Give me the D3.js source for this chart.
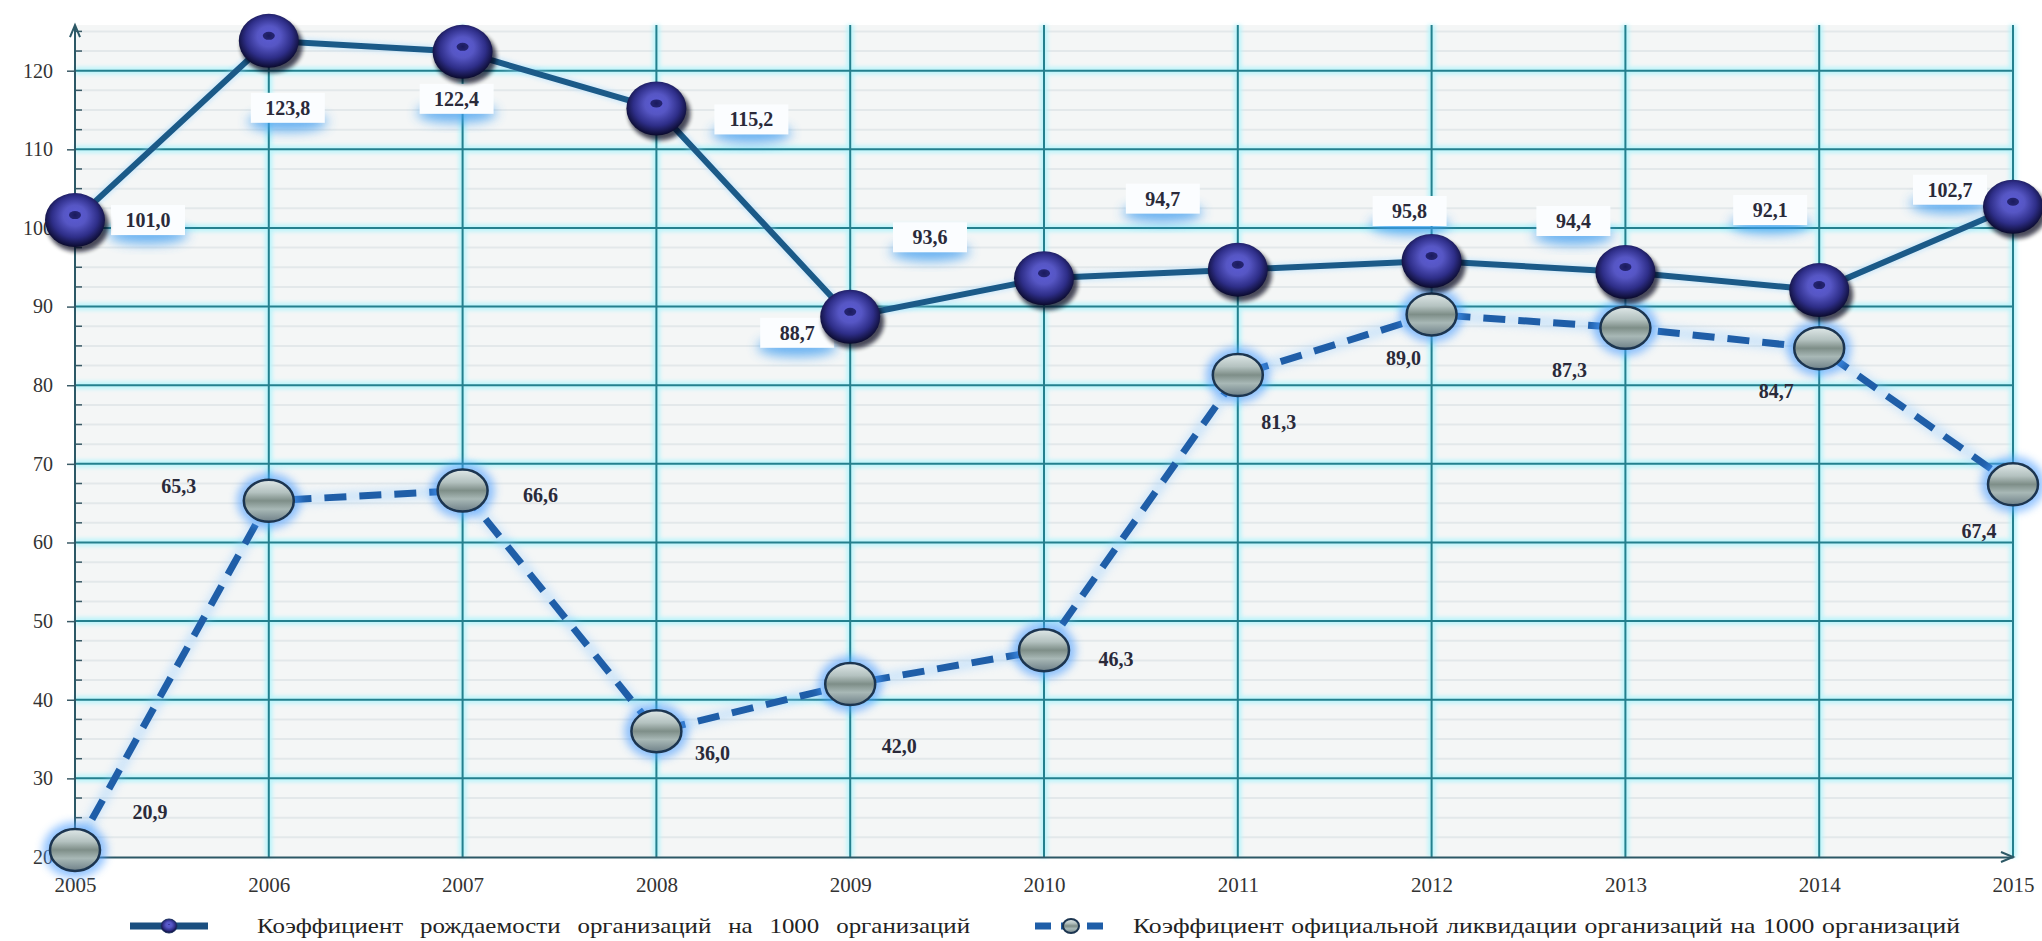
<!DOCTYPE html>
<html><head><meta charset="utf-8">
<script src="https://cdn.jsdelivr.net/npm/d3@7"></script>
<style>html,body{margin:0;padding:0;background:#fff;}svg{display:block;}</style>
</head><body>
<svg id="chart" width="2042" height="941"></svg>
<script>
// ---- data ----
const years = [2005,2006,2007,2008,2009,2010,2011,2012,2013,2014,2015];
const birthRate = [101.0,123.8,122.4,115.2,88.7,93.6,94.7,95.8,94.4,92.1,102.7];
const liquidationRate = [20.9,65.3,66.6,36.0,42.0,46.3,81.3,89.0,87.3,84.7,67.4];
const yTicks = [20,30,40,50,60,70,80,90,100,110,120];
const seriesNames = [
  "Коэффициент рождаемости организаций на 1000 организаций",
  "Коэффициент официальной ликвидации организаций на 1000 организаций"
];
// label offsets (px) relative to the point
const birthLabelOffsets = [[73,0],[19,67],[-6,47],[95,11],[-53,16],[-114,-41],[-75,-71],[-22,-50],[-52,-51],[-49,-80],[-63,-17]];
const liqLabelOffsets = [[75,-38],[-90,-15],[78,4],[56,22],[49,62],[72,9],[41,47],[-28,44],[-56,42],[-43,43],[-34,47]];

// ---- layout ----
const svg = d3.select("#chart");
const x = d3.scaleLinear().domain([2005,2015]).range([75,2013]);
const y = d3.scaleLinear().domain([20,120]).range([857,70.7]);
const yTop = y(125.8);
const fmt = v => d3.format(".1f")(v).replace(".", ",");

const defs = svg.append("defs");
const blur = (id, sd) => defs.append("filter").attr("id", id)
  .attr("x","-50%").attr("y","-50%").attr("width","200%").attr("height","200%")
  .append("feGaussianBlur").attr("stdDeviation", sd);
blur("b2", 2); blur("b4", 4); blur("b6", 6);

const g1 = defs.append("radialGradient").attr("id","sph1").attr("cx","50%").attr("cy","45%").attr("r","55%").attr("fx","50%").attr("fy","40%");
[[0,"#1e1e6a"],[0.12,"#5a5ad0"],[0.35,"#5656c4"],[0.7,"#2e2e88"],[1,"#0a0a2c"]].forEach(s=>g1.append("stop").attr("offset",s[0]).attr("stop-color",s[1]));
const g2 = defs.append("linearGradient").attr("id","sph2").attr("x1","0").attr("y1","0").attr("x2","0").attr("y2","1");
[[0,"#dfe8e8"],[0.3,"#b4c2c0"],[0.5,"#7e8e88"],[0.7,"#a8b8b6"],[1,"#6e8088"]].forEach(s=>g2.append("stop").attr("offset",s[0]).attr("stop-color",s[1]));

// plot background
svg.append("rect").attr("x", x(2005)).attr("y", yTop).attr("width", x(2015)-x(2005)).attr("height", y(20)-yTop).attr("fill","#f4f6f6");
// faint minor stripes
const minor = d3.range(20, 125.5, 2.5).filter(v => v % 10 !== 0);
svg.append("g").selectAll("line").data(minor).join("line")
  .attr("x1", x(2005)).attr("x2", x(2015)).attr("y1", d=>y(d)).attr("y2", d=>y(d))
  .attr("stroke","#e3e8ea").attr("stroke-width",2);

// gridlines with cyan glow
const grid = svg.append("g");
const hVals = yTicks.filter(v => v > 20);
const vVals = years.filter(v => v > 2005);
grid.append("g").attr("filter","url(#b2)").call(g => {
  g.selectAll(".h").data(hVals).join("line").attr("x1", x(2005)).attr("x2", x(2015)).attr("y1", d=>y(d)).attr("y2", d=>y(d)).attr("stroke","#b8f4fb").attr("stroke-width",7);
  g.selectAll(".v").data(vVals).join("line").attr("y1", yTop).attr("y2", y(20)).attr("x1", d=>x(d)).attr("x2", d=>x(d)).attr("stroke","#b8f4fb").attr("stroke-width",7);
});
grid.selectAll(".hh").data(hVals).join("line").attr("x1", x(2005)).attr("x2", x(2015)).attr("y1", d=>y(d)).attr("y2", d=>y(d)).attr("stroke","#24808e").attr("stroke-width",2);
grid.selectAll(".vv").data(vVals).join("line").attr("y1", yTop).attr("y2", y(20)).attr("x1", d=>x(d)).attr("x2", d=>x(d)).attr("stroke","#24808e").attr("stroke-width",2);

// axes
const yAxis = d3.axisLeft(y).tickValues(yTicks).tickSize(8).tickPadding(14).tickFormat(d3.format("d"));
const yg = svg.append("g").attr("transform", `translate(${x(2005)},0)`).call(yAxis);
yg.select(".domain").remove();
yg.selectAll("line").attr("stroke","#3a5a66").attr("stroke-width",1.5);
yg.selectAll("text").attr("font-family","Liberation Serif, serif").attr("font-size",20).attr("fill","#333");
svg.append("g").selectAll("line").data(minor).join("line")
  .attr("x1", x(2005)).attr("x2", x(2005)+7).attr("y1", d=>y(d)).attr("y2", d=>y(d)).attr("stroke","#3a5a66").attr("stroke-width",1.5);
svg.append("line").attr("x1",x(2005)).attr("x2",x(2005)).attr("y1",y(20)).attr("y2",yTop).attr("stroke","#2c5866").attr("stroke-width",2);
svg.append("path").attr("d",`M${x(2005)-5},${yTop+12}L${x(2005)},${yTop}L${x(2005)+5},${yTop+12}`).attr("fill","none").attr("stroke","#2c5866").attr("stroke-width",2);

const xAxis = d3.axisBottom(x).tickValues(years).tickSize(0).tickPadding(20).tickFormat(d3.format("d"));
const xg = svg.append("g").attr("transform", `translate(0,${y(20)})`).call(xAxis);
xg.select(".domain").attr("stroke","#2c5866").attr("stroke-width",2);
xg.selectAll("text").attr("font-family","Liberation Serif, serif").attr("font-size",21).attr("fill","#333");
svg.append("path").attr("d",`M${x(2015)-12},${y(20)-5}L${x(2015)},${y(20)}L${x(2015)-12},${y(20)+5}`).attr("fill","none").attr("stroke","#2c5866").attr("stroke-width",2);

// lines
const line2 = d3.line().x((d,i)=>x(years[i])).y(d=>y(d));
svg.append("path").datum(liquidationRate).attr("d", line2).attr("fill","none").attr("stroke","#8cc8ff").attr("stroke-width",12).attr("opacity",0.35).attr("filter","url(#b4)");
svg.append("path").datum(liquidationRate).attr("d", line2).attr("fill","none").attr("stroke","#1f5ea8").attr("stroke-width",7).attr("stroke-dasharray","22,13");
svg.append("path").datum(birthRate).attr("d", line2).attr("fill","none").attr("stroke","#9fd8ff").attr("stroke-width",10).attr("opacity",0.4).attr("filter","url(#b2)");
svg.append("path").datum(birthRate).attr("d", line2).attr("fill","none").attr("stroke","#1b5a88").attr("stroke-width",6);

// labels
const fontL = "Liberation Serif, serif";
const lb1 = svg.append("g").selectAll("g").data(birthRate).join("g")
  .attr("transform",(d,i)=>`translate(${x(years[i])+birthLabelOffsets[i][0]},${y(d)+birthLabelOffsets[i][1]})`);
lb1.append("ellipse").attr("cx",0).attr("cy",14).attr("rx",40).attr("ry",10).attr("fill","#3d9cf0").attr("opacity",0.75).attr("filter","url(#b6)");
lb1.append("rect").attr("x",-37).attr("y",-15).attr("width",74).attr("height",30).attr("fill","#fbfdff");
lb1.append("text").text(d=>fmt(d)).attr("text-anchor","middle").attr("dy","0.35em")
  .attr("font-family",fontL).attr("font-weight","bold").attr("font-size",20).attr("fill","#2a2a3a");

svg.append("g").selectAll("text").data(liquidationRate).join("text")
  .attr("x",(d,i)=>x(years[i])+liqLabelOffsets[i][0]).attr("y",(d,i)=>y(d)+liqLabelOffsets[i][1])
  .text(d=>fmt(d)).attr("text-anchor","middle").attr("dy","0.35em")
  .attr("font-family",fontL).attr("font-weight","bold").attr("font-size",20).attr("fill","#2a2a3a");

// markers series 2
const m2 = svg.append("g").selectAll("g").data(liquidationRate).join("g")
  .attr("transform",(d,i)=>`translate(${x(years[i])},${y(d)})`);
m2.append("ellipse").attr("rx",32).attr("ry",28).attr("fill","#4a9cff").attr("opacity",0.6).attr("filter","url(#b4)");
m2.append("ellipse").attr("rx",25).attr("ry",21).attr("fill","url(#sph2)").attr("stroke","#1c3550").attr("stroke-width",2.5);

// markers series 1
const m1 = svg.append("g").selectAll("g").data(birthRate).join("g")
  .attr("transform",(d,i)=>`translate(${x(years[i])},${y(d)})`);
m1.append("ellipse").attr("cx",3).attr("cy",5).attr("rx",31).attr("ry",27).attr("fill","#000018").attr("opacity",0.7).attr("filter","url(#b2)");
m1.append("ellipse").attr("rx",30).attr("ry",27).attr("fill","url(#sph1)");
m1.append("ellipse").attr("cy",-5).attr("rx",6).attr("ry",4).attr("fill","#1a1a5c").attr("opacity",0.85);

// legend
const leg = svg.append("g");
const lgY = 926;
leg.append("line").attr("x1",130).attr("x2",208).attr("y1",lgY).attr("y2",lgY).attr("stroke","#1b4f80").attr("stroke-width",7);
leg.append("ellipse").attr("cx",169).attr("cy",lgY).attr("rx",8).attr("ry",7).attr("fill","url(#sph1)").attr("stroke","#1b3060");
leg.append("line").attr("x1",1035).attr("x2",1107).attr("y1",lgY).attr("y2",lgY).attr("stroke","#1f5ea8").attr("stroke-width",7).attr("stroke-dasharray","16,10");
leg.append("ellipse").attr("cx",1071).attr("cy",lgY).attr("rx",8).attr("ry",7).attr("fill","url(#sph2)").attr("stroke","#1c3550").attr("stroke-width",2);
const legendTexts = [{x:257, w:713, ws:9}, {x:1133, w:827, ws:1}];
legendTexts.forEach((L, i) => {
  leg.append("text").attr("x",L.x).attr("y",lgY).attr("dy","0.35em").text(seriesNames[i])
    .attr("font-family",fontL).attr("font-size",21).attr("fill","#222")
    .attr("word-spacing", L.ws).attr("textLength", L.w).attr("lengthAdjust","spacingAndGlyphs");
});
</script>
</body></html>
